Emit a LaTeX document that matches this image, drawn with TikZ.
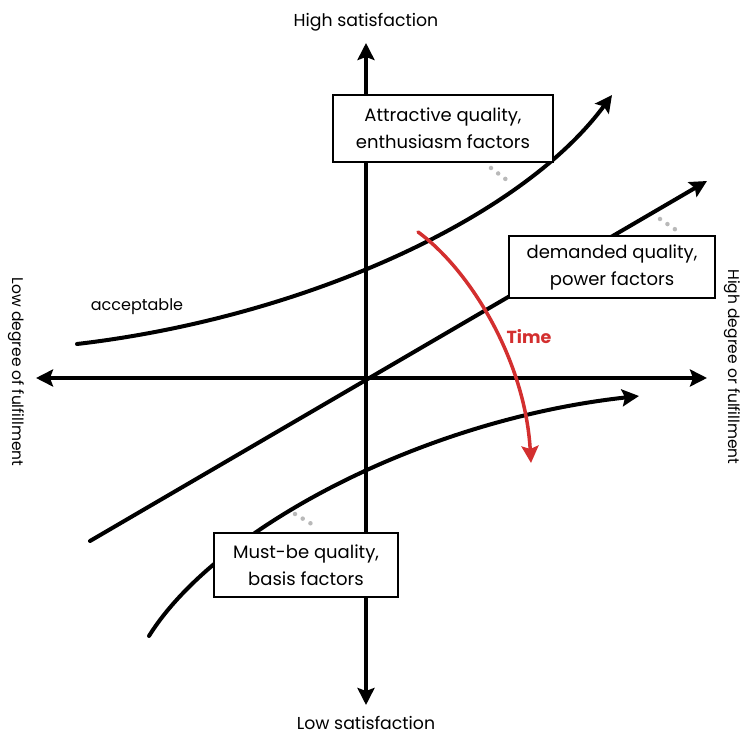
\documentclass[tikz,border=0pt]{standalone}
\usepackage{fontspec}
\setmainfont{Poppins}
\usetikzlibrary{arrows.meta}
\definecolor{timered}{RGB}{211,47,47}
\definecolor{dotgray}{RGB}{185,185,185}
\begin{document}
\begin{tikzpicture}[x=1pt,y=-1pt,
  tip/.tip={Stealth[length=17pt,width=17pt,inset=3pt]},
  axis/.style={line width=4pt, tip-tip},
  curve/.style={line width=4pt, line cap=round, -tip},
  timearrow/.style={timered, line width=3.5pt, line cap=round, -tip},
  labelbox/.style={draw, fill=white, line width=2.2pt, align=center,
    inner sep=0pt, font=\fontsize{18}{27}\selectfont},
  callout/.style={dotgray, line width=4.5pt, line cap=round, dash pattern=on 0pt off 9pt},
  axislabel/.style={font=\fontsize{17.3}{19}\selectfont},
  sidelabel/.style={rotate=-90, font=\fontsize{15.5}{17}\selectfont}
]
\useasboundingbox (0,0) rectangle (740,735);

% axes
\coordinate (xl) at (36,378);
\coordinate (xr) at (707,378);
\coordinate (yt) at (366,43);
\coordinate (yb) at (366,705);
\draw[axis] (xl) -- (xr);
\draw[axis] (yb) -- (yt);

% axis labels
\node[axislabel] (high) at (366,22) {High satisfaction};
\node[axislabel] (low) at (366,723) {Low satisfaction};
\node[sidelabel] (lowdeg) at (16,372) {Low degree of fulfillment};
\node[sidelabel] (highdeg) at (732,367) {High degree or fulfillment};

% attractive quality curve
\coordinate (a0) at (77,344);
\coordinate (a1) at (612,95);
\draw[curve] (a0) .. controls (300,318) and (520,220) .. (a1);

% demanded quality line
\coordinate (d0) at (90,541);
\coordinate (d1) at (707,181);
\draw[curve] (d0) -- (d1);

% must-be quality curve
\coordinate (m0) at (149,636);
\coordinate (m1) at (639,396);
\draw[curve] (m0) .. controls (215,530) and (420,420) .. (m1);

% label boxes
\node[labelbox, minimum width=220pt, minimum height=67pt] (attr) at (443,128.5)
  {Attractive quality,\\enthusiasm factors};
\node[labelbox, minimum width=206pt, minimum height=62pt] (dem) at (612,267)
  {demanded quality,\\power factors};
\node[labelbox, minimum width=184pt, minimum height=64pt] (must) at (306,565)
  {Must-be quality,\\basis factors};

% dotted callouts
\coordinate (ca0) at (491,168);
\coordinate (ca1) at (512,184);
\coordinate (cd0) at (660,219);
\coordinate (cd1) at (679,232);
\coordinate (cm0) at (295,514);
\coordinate (cm1) at (315,526);
\draw[callout] (ca0) -- (ca1);
\draw[callout] (cd0) -- (cd1);
\draw[callout] (cm0) -- (cm1);

% curve label
\node[font=\fontsize{16}{18}\selectfont] (acc) at (137,307) {acceptable};

% time arrow
\coordinate (t0) at (418,232);
\coordinate (t1) at (531,463);
\draw[timearrow] (t0) .. controls (470,270) and (525,360) .. (t1);
\node[timered, font=\bfseries\fontsize{17.5}{19}\selectfont] (time) at (529,337) {Time};
\end{tikzpicture}
\end{document}
